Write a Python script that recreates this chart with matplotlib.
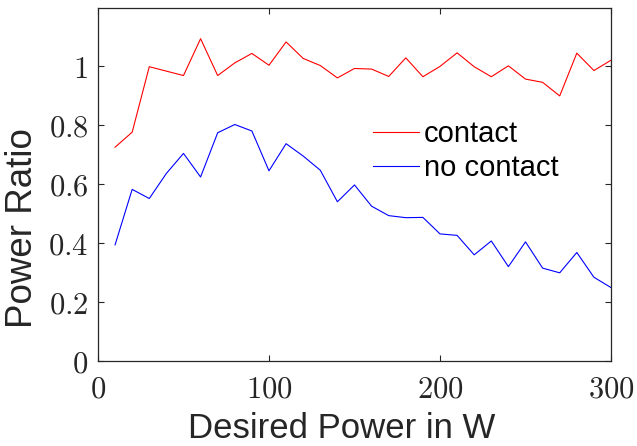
import numpy as np
import matplotlib
matplotlib.use("Agg")
import matplotlib.pyplot as plt
from matplotlib.ticker import FuncFormatter

plt.rcParams['mathtext.fontset'] = 'cm'
plt.rcParams['font.family'] = ['Liberation Sans', 'DejaVu Sans']

power = [10, 20, 30, 40, 50, 60, 70, 80, 90, 100,
         110, 120, 130, 140, 150, 160, 170, 180, 190, 200,
         210, 220, 230, 240, 250, 260, 270, 280, 290, 300]
contact = [0.725, 0.776, 0.998, 0.983, 0.968, 1.093, 0.968, 1.011, 1.043, 1.003,
           1.082, 1.026, 1.002, 0.960, 0.992, 0.990, 0.965, 1.028, 0.964, 0.999,
           1.045, 0.998, 0.964, 1.001, 0.956, 0.945, 0.899, 1.044, 0.985, 1.020]
no_contact = [0.394, 0.582, 0.551, 0.636, 0.704, 0.624, 0.774, 0.802, 0.780, 0.645,
              0.737, 0.695, 0.647, 0.540, 0.597, 0.525, 0.493, 0.486, 0.487, 0.431,
              0.426, 0.360, 0.407, 0.320, 0.404, 0.315, 0.299, 0.368, 0.284, 0.249]

xticks = [0, 100, 200, 300]
yticks = [0, 0.2, 0.4, 0.6, 0.8, 1]

fig = plt.figure(figsize=(6.37, 4.46), dpi=100)
ax = fig.add_axes([0.1538, 0.1906, 0.8054, 0.7914])

ax.plot(power, contact, color=(1, 0, 0), lw=0.8, label='contact')
ax.plot(power, no_contact, color=(0, 0, 1), lw=0.8, label='no contact')

ax.set_xlim(0, 300)
ax.set_ylim(0, 1.197)
ax.set_xticks(xticks)
ax.set_yticks(yticks)

# computer modern tick labels, like the latex interpreter
def cm_fmt(v, pos):
    return '$%g$' % v

ax.xaxis.set_major_formatter(FuncFormatter(cm_fmt))
ax.yaxis.set_major_formatter(FuncFormatter(cm_fmt))

ax.tick_params(direction='in', top=True, right=True, length=4.5, width=0.8,
               color='#262626', labelsize=22, labelcolor='#262626')
ax.tick_params(axis='x', pad=10)
ax.tick_params(axis='y', pad=7)
for sp in ax.spines.values():
    sp.set_color('#262626')
    sp.set_linewidth(0.9)

ax.set_xlabel('Desired Power in W', fontsize=25, color='#262626')
ax.set_ylabel('Power Ratio', fontsize=26.5, color='#262626')
ax.xaxis.set_label_coords(0.474, -0.145)
ax.yaxis.set_label_coords(-0.113, 0.378)

ax.legend(loc='upper left', bbox_to_anchor=(0.536, 0.683), frameon=False,
          fontsize=21, handlelength=1.58, handletextpad=0.17, labelspacing=0.22,
          borderaxespad=0, borderpad=0)

fig.savefig('out.png', dpi=100)
